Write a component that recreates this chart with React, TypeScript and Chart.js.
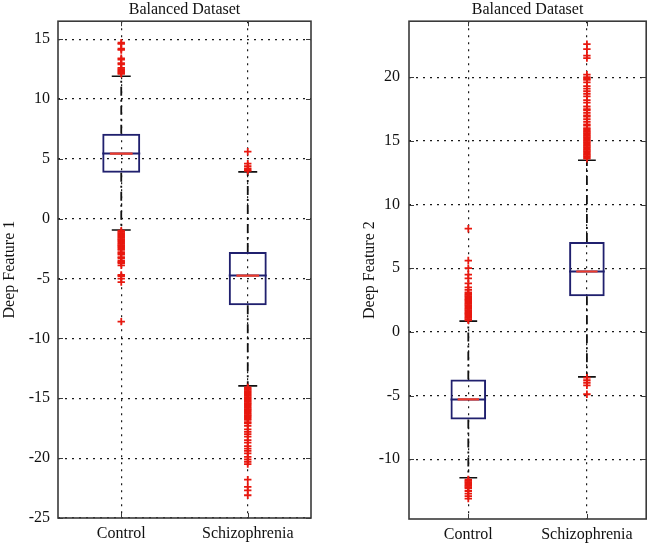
import React, { useEffect, useRef } from 'react';
import { Chart, registerables } from 'chart.js';
Chart.register(...registerables);

// ---------- data ----------
const CATEGORIES = ['Control', 'Schizophrenia'];
const TITLE = 'Balanced Dataset';

const F1_LABEL = 'Deep Feature 1';
const F1_Y_TICKS = [-25, -20, -15, -10, -5, 0, 5, 10, 15];
const F1_Y_MIN = -25;
const F1_Y_MAX = 16.5;
const F1_Q1 = [3.83, -7.22];
const F1_MEDIAN = [5.44, -4.75];
const F1_Q3 = [7.1, -2.78];
const F1_LOWER_WHISKER = [-0.94, -13.97];
const F1_UPPER_WHISKER = [11.9, 3.92];
const F1_OUTLIERS_CONTROL = [
  14.7, 14.6, 14.2, 14.1, 13.4, 13.3, 13.0, 12.9, 12.6, 12.5, 12.4, 12.3, 12.2, 12.1,
  -1.0, -1.1, -1.2, -1.3, -1.4, -1.5, -1.6, -1.7, -1.8, -1.9, -2.0, -2.1, -2.2, -2.3,
  -2.4, -2.5, -2.6, -2.8, -2.9, -3.0, -3.2, -3.3, -3.5, -3.6, -3.7, -3.9, -4.7, -4.8,
  -5.0, -5.3, -8.6,
];
const F1_OUTLIERS_SCHIZO = [
  4.0, 4.1, 4.2, 4.4, 4.6, 5.6,
  -14.1, -14.2, -14.3, -14.4, -14.5, -14.6, -14.7, -14.8, -14.9, -15.0, -15.1, -15.2,
  -15.3, -15.4, -15.5, -15.6, -15.7, -15.8, -15.9, -16.0, -16.1, -16.2, -16.3, -16.4,
  -16.5, -16.6, -16.7, -16.8, -17.0, -17.1, -17.3, -17.6, -17.8, -18.0, -18.2, -18.5,
  -18.7, -19.0, -19.2, -19.4, -19.6, -19.9, -20.1, -20.3, -20.5, -21.8, -22.4, -22.7,
  -23.1,
];

const F2_LABEL = 'Deep Feature 2';
const F2_Y_TICKS = [-10, -5, 0, 5, 10, 15, 20];
const F2_Y_MIN = -14.7;
const F2_Y_MAX = 24.4;
const F2_Q1 = [-6.88, 2.8];
const F2_MEDIAN = [-5.31, 4.74];
const F2_Q3 = [-3.74, 7.06];
const F2_LOWER_WHISKER = [-11.46, -3.53];
const F2_UPPER_WHISKER = [0.84, 13.48];
const F2_OUTLIERS_CONTROL = [
  0.9, 1.0, 1.1, 1.2, 1.3, 1.4, 1.5, 1.6, 1.7, 1.8, 1.9, 2.0, 2.1, 2.2, 2.3, 2.4, 2.5,
  2.6, 2.7, 2.8, 2.9, 3.0, 3.1, 3.3, 3.5, 3.8, 4.2, 4.5, 5.0, 5.6, 8.1,
  -11.6, -11.7, -11.8, -11.9, -12.0, -12.1, -12.2, -12.3, -12.5, -12.7, -12.9, -13.1,
];
const F2_OUTLIERS_SCHIZO = [
  13.6, 13.7, 13.8, 13.9, 14.0, 14.1, 14.2, 14.3, 14.4, 14.5, 14.6, 14.7, 14.8, 14.9,
  15.0, 15.1, 15.2, 15.3, 15.4, 15.5, 15.6, 15.7, 15.8, 15.9, 16.0, 16.2, 16.3, 16.5,
  16.7, 16.9, 17.0, 17.2, 17.4, 17.5, 17.7, 18.0, 18.2, 18.5, 18.7, 18.9, 19.1, 19.3,
  19.6, 19.8, 19.9, 20.0, 20.2, 21.5, 21.7, 22.2, 22.6,
  -3.6, -3.8, -4.0, -4.2, -4.9,
];

// ---------- style ----------
const FONT = '"Liberation Serif", "Times New Roman", serif';
const NAVY = '#20206e';
const OUT_RED = '#e8180f';
const MED_RED = '#ec3b2c';
const INK = '#111111';
const BOX_HALF = 0.15;
const CAP_HALF = 0.075;
const RED_HALF = 0.09;

function buildDatasets(q1: number[], med: number[], q3: number[], lo: number[], hi: number[], outliers: number[][]) {
  const pos = CATEGORIES.map((_, i) => i + 1);
  const outlierPts = outliers.flatMap((arr, i) => arr.map((v) => ({ x: pos[i], y: v })));
  const whiskers = pos.flatMap((x, i) => [
    { x, y: q3[i] }, { x, y: hi[i] }, { x, y: null },
    { x, y: q1[i] }, { x, y: lo[i] }, { x, y: null },
  ]);
  const caps = pos.flatMap((x, i) => [
    { x: x - CAP_HALF, y: hi[i] }, { x: x + CAP_HALF, y: hi[i] }, { x, y: null },
    { x: x - CAP_HALF, y: lo[i] }, { x: x + CAP_HALF, y: lo[i] }, { x, y: null },
  ]);
  const medNavy = pos.flatMap((x, i) => [
    { x: x - BOX_HALF, y: med[i] }, { x: x + BOX_HALF, y: med[i] }, { x, y: null },
  ]);
  const medRed = pos.flatMap((x, i) => [
    { x: x - RED_HALF, y: med[i] }, { x: x + RED_HALF, y: med[i] }, { x, y: null },
  ]);
  return [
    {
      type: 'scatter', data: outlierPts, pointStyle: 'cross', pointRadius: 3.7,
      borderColor: OUT_RED, backgroundColor: OUT_RED, borderWidth: 1.8, order: 0,
    },
    { type: 'line', data: medRed, borderColor: MED_RED, borderWidth: 2.2, pointRadius: 0, spanGaps: false, order: 1 },
    { type: 'line', data: medNavy, borderColor: NAVY, borderWidth: 2, pointRadius: 0, spanGaps: false, order: 2 },
    { type: 'line', data: caps, borderColor: INK, borderWidth: 1.7, pointRadius: 0, spanGaps: false, order: 3 },
    {
      type: 'line', data: whiskers, borderColor: INK, borderWidth: 1.8, borderDash: [9, 4, 2, 4],
      pointRadius: 0, spanGaps: false, order: 4,
    },
    {
      type: 'bar', data: pos.map((x, i) => ({ x, y: [q1[i], q3[i]] })),
      backgroundColor: 'rgba(0,0,0,0)', borderColor: NAVY, borderWidth: 2, borderSkipped: false,
      barPercentage: 0.3, categoryPercentage: 1, order: 5,
    },
  ];
}

const framePlugin = {
  id: 'frame',
  afterDraw(chart: any) {
    const { ctx, chartArea: a, scales } = chart;
    ctx.save();
    ctx.strokeStyle = '#3a3a3a';
    ctx.lineWidth = 1.6;
    ctx.setLineDash([]);
    ctx.strokeRect(a.left, a.top, a.right - a.left, a.bottom - a.top);
    ctx.lineWidth = 1;
    ctx.beginPath();
    scales.y.ticks.forEach((t: any) => {
      const p = Math.round(scales.y.getPixelForValue(t.value)) + 0.5;
      ctx.moveTo(a.left, p); ctx.lineTo(a.left + 5, p);
      ctx.moveTo(a.right, p); ctx.lineTo(a.right - 5, p);
    });
    scales.x.ticks.forEach((t: any) => {
      const p = Math.round(scales.x.getPixelForValue(t.value)) + 0.5;
      ctx.moveTo(p, a.bottom); ctx.lineTo(p, a.bottom - 5);
      ctx.moveTo(p, a.top); ctx.lineTo(p, a.top + 5);
    });
    ctx.stroke();
    ctx.restore();
  },
};

type PanelProps = {
  left: number; width: number; axisWidth: number; axisHeight: number; padRight: number;
  tickPad: number; yLabel: string; yTicks: number[]; yMin: number; yMax: number;
  q1: number[]; med: number[]; q3: number[]; lo: number[]; hi: number[]; outliers: number[][];
};

function Panel(p: PanelProps) {
  const ref = useRef<HTMLCanvasElement>(null);
  useEffect(() => {
    if (!ref.current) return;
    const gridCommon = { color: '#1a1a1a', lineWidth: 1.2, drawTicks: false, offset: false };
    const chart = new Chart(ref.current, {
      type: 'scatter',
      data: { datasets: buildDatasets(p.q1, p.med, p.q3, p.lo, p.hi, p.outliers) as any },
      options: {
        animation: false,
        responsive: false,
        devicePixelRatio: 1,
        layout: { padding: { left: 0, right: p.padRight, top: 0, bottom: 0 } },
        plugins: {
          legend: { display: false },
          tooltip: { enabled: false },
          title: {
            display: true, text: TITLE, fullSize: false, color: INK,
            font: { family: FONT, size: 16, weight: 'normal' }, padding: { top: 0, bottom: 2 },
          },
        },
        scales: {
          x: {
            type: 'linear', min: 0.5, max: 2.5, offset: false,
            grid: gridCommon,
            border: { display: false, dash: [2, 5] },
            afterBuildTicks: (s: any) => { s.ticks = CATEGORIES.map((_, i) => ({ value: i + 1 })); },
            afterFit: (s: any) => { s.height = p.axisHeight; },
            ticks: {
              color: INK, font: { family: FONT, size: 16 }, padding: 6, maxRotation: 0, autoSkip: false,
              callback: (v: any) => CATEGORIES[Number(v) - 1] ?? '',
            },
          },
          y: {
            type: 'linear', min: p.yMin, max: p.yMax,
            grid: gridCommon,
            border: { display: false, dash: [2, 5] },
            afterBuildTicks: (s: any) => { s.ticks = p.yTicks.map((v) => ({ value: v })); },
            afterFit: (s: any) => { s.width = p.axisWidth; },
            ticks: { color: INK, font: { family: FONT, size: 16 }, padding: p.tickPad },
            title: {
              display: true, text: p.yLabel, color: INK,
              font: { family: FONT, size: 16 }, padding: { top: 0, bottom: 0 },
            },
          },
        },
      } as any,
      plugins: [framePlugin],
    });
    return () => chart.destroy();
  }, []);
  return (
    <canvas
      ref={ref}
      width={p.width}
      height={543}
      style={{ position: 'absolute', left: p.left, top: 0, width: p.width, height: 543 }}
    />
  );
}

export default function App() {
  return (
    <div style={{ position: 'absolute', left: 0, top: 0, width: 652, height: 543, background: '#fff', overflow: 'hidden' }}>
      <Panel
        left={0} width={330} axisWidth={58} axisHeight={25} padRight={19} tickPad={8}
        yLabel={F1_LABEL} yTicks={F1_Y_TICKS} yMin={F1_Y_MIN} yMax={F1_Y_MAX}
        q1={F1_Q1} med={F1_MEDIAN} q3={F1_Q3} lo={F1_LOWER_WHISKER} hi={F1_UPPER_WHISKER}
        outliers={[F1_OUTLIERS_CONTROL, F1_OUTLIERS_SCHIZO]}
      />
      <Panel
        left={360} width={292} axisWidth={49} axisHeight={24} padRight={2} tickPad={9}
        yLabel={F2_LABEL} yTicks={F2_Y_TICKS} yMin={F2_Y_MIN} yMax={F2_Y_MAX}
        q1={F2_Q1} med={F2_MEDIAN} q3={F2_Q3} lo={F2_LOWER_WHISKER} hi={F2_UPPER_WHISKER}
        outliers={[F2_OUTLIERS_CONTROL, F2_OUTLIERS_SCHIZO]}
      />
    </div>
  );
}
